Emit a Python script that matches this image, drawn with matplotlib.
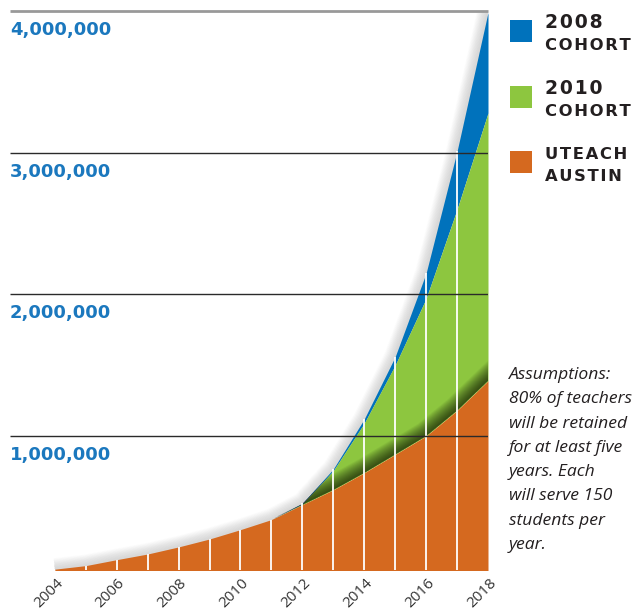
import matplotlib
matplotlib.use("Agg")
import numpy as np
import matplotlib.pyplot as plt
import matplotlib.transforms as mtransforms
from matplotlib.patches import Rectangle

# - data (number of students served)
years = [2004, 2005, 2006, 2007, 2008, 2009, 2010, 2011, 2012, 2013, 2014, 2015, 2016, 2017, 2018]
uteach_austin = [60000, 85000, 127000, 167000, 217000, 273000, 339000, 410000, 515000, 620000, 740000, 870000, 1000000, 1180000, 1390000]
cohort_2010 = [0, 0, 0, 0, 0, 0, 0, 0, 5000, 135000, 350000, 630000, 970000, 1420000, 1890000]
cohort_2008 = [0, 0, 0, 0, 0, 0, 0, 0, 5000, 12000, 30000, 60000, 180000, 410000, 710000]
grid_values = [1000000, 2000000, 3000000, 4000000]
grid_labels = ["1,000,000", "2,000,000", "3,000,000", "4,000,000"]
tick_years = [2004, 2006, 2008, 2010, 2012, 2014, 2016, 2018]
legend_top = ["2008", "2010", "UTEACH"]
legend_bottom = ["COHORT", "COHORT", "AUSTIN"]
note_lines = ["Assumptions:", "80% of teachers", "will be retained", "for at least five",
              "years. Each", "will serve 150", "students per", "year."]

# - colours
orange = "#D5691F"
green = "#8DC63F"
blue = "#0072BC"
label_blue = "#1B78BE"
dark = "#231F20"

W, H = 633, 612
fig = plt.figure(figsize=(W / 100, H / 100), dpi=100)
ax = fig.add_axes([10 / W, 42 / H, 478 / W, 559 / H])

x = np.array(years)
o = np.array(uteach_austin)
g = o + np.array(cohort_2010)
b = g + np.array(cohort_2008)

# soft glow above the whole stack
for lw in range(2, 17, 1):
    ax.plot(x, b, color="0.4", lw=lw, alpha=0.016, zorder=1, solid_capstyle="butt")

ax.fill_between(x, g, b, color=blue, lw=0, zorder=2)
gpoly = ax.fill_between(x, o, g, color=green, lw=0, zorder=2)

# dark shadow cast by the orange layer onto the green one
clip = gpoly.get_paths()[0]
for lw in range(1, 22, 1):
    ln, = ax.plot(x, o, color="black", lw=lw, alpha=0.04, zorder=3)
    ln.set_clip_path(clip, ax.transData)

ax.fill_between(x, 0, o, color=orange, lw=0, zorder=4)

# white year separators
ax.vlines(x[1:-1], 0, b[1:-1], color="white", lw=1.3, zorder=5)

# grid lines
ax.hlines(grid_values[:-1], 2002.55, 2018, color="#2a2a2a", lw=1.0, zorder=6)
ax.hlines(grid_values[-1], 2002.55, 2018, color="#999999", lw=2.0, zorder=6, clip_on=False)

ax.set_xlim(2002.55, 2018)
ax.set_ylim(54000, 4000000)
ax.axis("off")

# y labels under each line
ytrans = mtransforms.offset_copy(ax.get_yaxis_transform(), fig=fig, x=0, y=-24, units="dots")
for v, lab in zip(grid_values, grid_labels):
    ax.text(0, v, lab, transform=ytrans, ha="left", va="baseline", color=label_blue,
            fontsize=13, fontweight="bold", family="DejaVu Sans")

# rotated year labels
xtrans = mtransforms.offset_copy(ax.transData, fig=fig, x=6, y=-11, units="dots")
for yr in tick_years:
    ax.text(yr, 54000, str(yr), transform=xtrans, rotation=45, rotation_mode="anchor",
            ha="right", va="center", fontsize=11, color="#333333", family="Open Sans",
            clip_on=False)

# legend
def px(xp, yp):
    return xp / W, 1 - yp / H

def spaced(s):
    return "\u200a".join(s)

for i, (col, t1, t2) in enumerate(zip([blue, green, orange], legend_top, legend_bottom)):
    y0 = 20 + 65.5 * i
    fig.patches.append(Rectangle(px(510, y0 + 22), 22 / W, 22 / H, transform=fig.transFigure,
                                 facecolor=col, edgecolor="none"))
    big = 13.5 if i < 2 else 11.8
    fig.text(*px(545, y0 + 8), spaced(t1), ha="left", va="baseline", fontsize=big,
             fontweight="bold", color=dark, family=["DejaVu Sans"])
    fig.text(*px(545, y0 + 30), spaced(t2), ha="left", va="baseline", fontsize=11.8,
             fontweight="bold", color=dark, family=["DejaVu Sans"])

# assumptions note
for i, line in enumerate(note_lines):
    fig.text(*px(509, 379 + 24.3 * i), line, ha="left", va="baseline", fontsize=12.6,
             style="italic", color=dark, family="Open Sans")

plt.savefig("out.png", dpi=100)
